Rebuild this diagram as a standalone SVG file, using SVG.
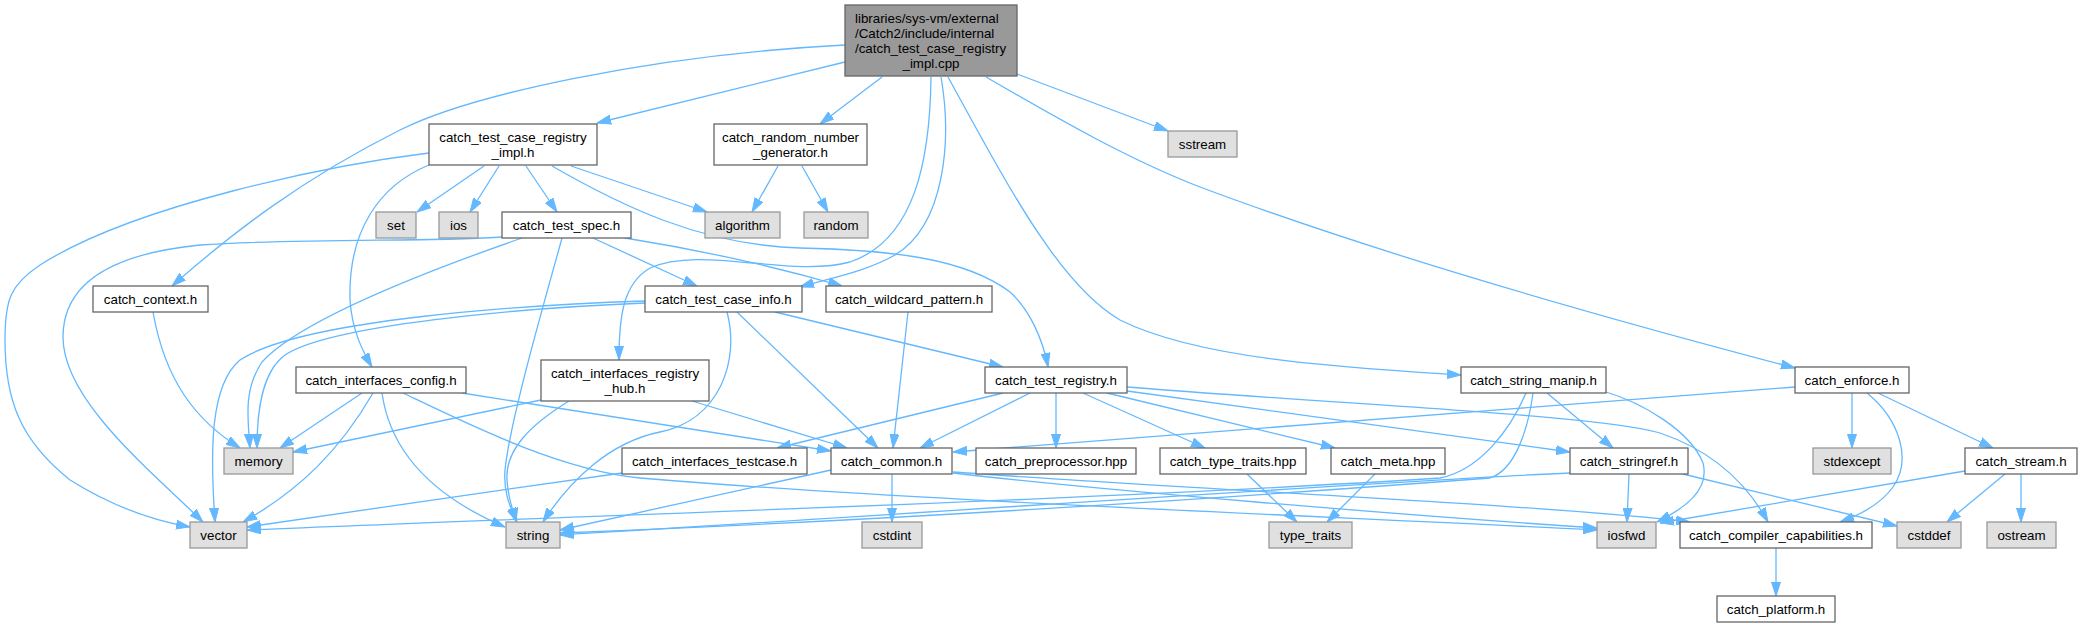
<svg xmlns="http://www.w3.org/2000/svg" width="2082" height="627" viewBox="0 0 2082 627">
<defs>
<marker id="ah" markerUnits="userSpaceOnUse" markerWidth="14" markerHeight="10" viewBox="0 0 14 10" refX="14" refY="5" orient="auto">
<path d="M0,0.5 L14,5 L0,9.5 z" fill="#63b8ff" stroke="#63b8ff" stroke-width="1"/>
</marker>
<style>
.n rect{fill:#ffffff;stroke:#666666;stroke-width:1.3}
.x rect{fill:#e0e0e0;stroke:#999999;stroke-width:1.3}
.r rect{fill:#999999;stroke:#666666;stroke-width:1.3}
text{font-family:"Liberation Sans",Arial,Helvetica,sans-serif;font-size:13.33px;fill:#000000}
.c{text-anchor:middle}
#edges path{fill:none;stroke:#63b8ff;stroke-width:1.3;marker-end:url(#ah)}
</style>
</defs>
<rect width="2082" height="627" fill="#ffffff"/>
<g id="edges">
<path d="M845,45 C650,55 470,95 400,130 C300,180 230,235 172,286"/>
<path d="M845,62 L597,123"/>
<path d="M882,77 L820,124"/>
<path d="M1017,74 L1168,131"/>
<path d="M986,77 C1060,120 1130,160 1200,187 C1400,262 1650,330 1795,368"/>
<path d="M948,77 C1010,190 1060,285 1120,320 C1200,360 1350,368 1461,375"/>
<path d="M931,77 C930,160 915,240 850,262 C790,278 700,245 650,268 C622,284 619,320 619,360"/>
<path d="M941,77 C952,140 945,225 895,255 C865,272 830,278 800,287"/>
<path d="M484,166 L417,212"/>
<path d="M499,166 L470,212"/>
<path d="M526,166 L557,212"/>
<path d="M571,166 L707,212"/>
<path d="M552,166 C620,205 700,245 800,248 C890,250 965,258 1010,292 C1030,310 1043,340 1048,367"/>
<path d="M429,153 C330,165 134,205 40,265 C10,285 5,300 5,340 C5,400 20,440 70,480 C110,505 150,520 190,527"/>
<path d="M429,165 C380,185 348,230 350,300 C352,330 362,350 372,367"/>
<path d="M778,166 L752,212"/>
<path d="M802,166 L828,212"/>
<path d="M502,237 C440,242 300,238 200,245 C100,255 63,290 63,337 C63,400 150,470 203,522"/>
<path d="M522,238 C430,270 300,320 262,362 C243,390 248,420 250,448"/>
<path d="M562,238 C545,300 510,420 505,470 C503,495 512,510 517,522"/>
<path d="M593,238 L697,286"/>
<path d="M625,238 C700,250 780,268 842,286"/>
<path d="M153,312 C165,380 195,420 240,448"/>
<path d="M645,301 C520,305 300,320 240,360 C210,385 210,450 215,522"/>
<path d="M645,303 C520,308 330,325 285,355 C262,372 257,410 257,448"/>
<path d="M727,312 C740,360 720,420 660,432 C610,442 570,480 543,522"/>
<path d="M737,312 L878,448"/>
<path d="M775,312 L1003,367"/>
<path d="M908,312 L893,448"/>
<path d="M362,393 L280,448"/>
<path d="M373,393 C340,450 300,490 243,522"/>
<path d="M382,393 C390,450 430,495 505,527"/>
<path d="M462,393 L831,451"/>
<path d="M403,393 C470,425 560,470 640,478 C900,500 1300,515 1597,530"/>
<path d="M541,400 L293,452"/>
<path d="M569,401 C530,425 505,450 507,480 C508,500 514,512 516,522"/>
<path d="M692,401 L847,448"/>
<path d="M1003,393 L777,448"/>
<path d="M1030,393 L920,448"/>
<path d="M1056,393 L1056,448"/>
<path d="M1083,393 L1205,448"/>
<path d="M1107,393 L1335,448"/>
<path d="M1127,391 L1570,452"/>
<path d="M1127,387 C1350,405 1600,415 1660,433 C1710,450 1745,480 1768,522"/>
<path d="M1547,393 L1613,448"/>
<path d="M1606,392 C1640,402 1690,430 1703,463 C1710,490 1685,508 1657,522"/>
<path d="M1526,393 C1510,430 1480,470 1440,478 C1100,500 600,515 247,530"/>
<path d="M1533,393 C1528,430 1515,470 1490,478 C1200,500 900,520 560,533"/>
<path d="M1570,473 C1400,480 900,515 560,535"/>
<path d="M831,470 L560,530"/>
<path d="M892,474 L892,522"/>
<path d="M953,473 C1100,490 1400,515 1597,528"/>
<path d="M953,472 C1200,490 1550,505 1690,522"/>
<path d="M1795,387 C1500,410 1100,440 953,452"/>
<path d="M1852,393 L1852,448"/>
<path d="M1878,393 L1993,448"/>
<path d="M1867,393 C1900,420 1912,460 1893,487 C1880,505 1860,515 1840,522"/>
<path d="M1965,471 L1660,523"/>
<path d="M2005,474 L1947,522"/>
<path d="M2021,474 L2021,522"/>
<path d="M1629,474 L1627,522"/>
<path d="M1683,474 L1897,526"/>
<path d="M1776,548 L1776,596"/>
<path d="M1247,474 L1297,522"/>
<path d="M1375,474 L1327,522"/>
<path d="M622,473 C500,490 350,512 247,527"/>
</g>
<g id="root" class="r"><rect x="845" y="5" width="172" height="71"/>
<text x="855" y="23">libraries/sys-vm/external</text>
<text x="855" y="38">/Catch2/include/internal</text>
<text x="855" y="53">/catch_test_case_registry</text>
<text x="931" y="68" class="c">_impl.cpp</text></g>
<g id="impl" class="n"><rect x="429" y="124" width="168" height="41"/>
<text x="513" y="141.7" class="c">catch_test_case_registry</text>
<text x="513" y="156.7" class="c">_impl.h</text></g>
<g id="rng" class="n"><rect x="714" y="124" width="153" height="41"/>
<text x="790.5" y="141.7" class="c">catch_random_number</text>
<text x="790.5" y="156.7" class="c">_generator.h</text></g>
<g id="sstream" class="x"><rect x="1168" y="131" width="69" height="26"/><text x="1202.5" y="148.7" class="c">sstream</text></g>
<g id="set" class="x"><rect x="376" y="212" width="40" height="26"/><text x="396" y="229.7" class="c">set</text></g>
<g id="ios" class="x"><rect x="439" y="212" width="39" height="26"/><text x="458.5" y="229.7" class="c">ios</text></g>
<g id="spec" class="n"><rect x="502" y="212" width="129" height="26"/><text x="566.5" y="229.7" class="c">catch_test_spec.h</text></g>
<g id="algorithm" class="x"><rect x="705" y="212" width="75" height="26"/><text x="742.5" y="229.7" class="c">algorithm</text></g>
<g id="random" class="x"><rect x="804" y="212" width="64" height="26"/><text x="836" y="229.7" class="c">random</text></g>
<g id="context" class="n"><rect x="93" y="286" width="115" height="26"/><text x="150.5" y="303.7" class="c">catch_context.h</text></g>
<g id="tci" class="n"><rect x="645" y="286" width="157" height="26"/><text x="723.5" y="303.7" class="c">catch_test_case_info.h</text></g>
<g id="wildcard" class="n"><rect x="826" y="286" width="166" height="26"/><text x="909" y="303.7" class="c">catch_wildcard_pattern.h</text></g>
<g id="iconfig" class="n"><rect x="296" y="367" width="170" height="26"/><text x="381" y="384.7" class="c">catch_interfaces_config.h</text></g>
<g id="hub" class="n"><rect x="541" y="360" width="168" height="41"/>
<text x="625" y="377.7" class="c">catch_interfaces_registry</text>
<text x="625" y="392.7" class="c">_hub.h</text></g>
<g id="registry" class="n"><rect x="985" y="367" width="142" height="26"/><text x="1056" y="384.7" class="c">catch_test_registry.h</text></g>
<g id="manip" class="n"><rect x="1461" y="367" width="145" height="26"/><text x="1533.5" y="384.7" class="c">catch_string_manip.h</text></g>
<g id="enforce" class="n"><rect x="1795" y="367" width="114" height="26"/><text x="1852" y="384.7" class="c">catch_enforce.h</text></g>
<g id="memory" class="x"><rect x="224" y="448" width="69" height="26"/><text x="258.5" y="465.7" class="c">memory</text></g>
<g id="testcase" class="n"><rect x="622" y="448" width="185" height="26"/><text x="714.5" y="465.7" class="c">catch_interfaces_testcase.h</text></g>
<g id="common" class="n"><rect x="831" y="448" width="121" height="26"/><text x="891.5" y="465.7" class="c">catch_common.h</text></g>
<g id="preproc" class="n"><rect x="976" y="448" width="160" height="26"/><text x="1056" y="465.7" class="c">catch_preprocessor.hpp</text></g>
<g id="typetraitshpp" class="n"><rect x="1160" y="448" width="146" height="26"/><text x="1233" y="465.7" class="c">catch_type_traits.hpp</text></g>
<g id="meta" class="n"><rect x="1331" y="448" width="114" height="26"/><text x="1388" y="465.7" class="c">catch_meta.hpp</text></g>
<g id="stringref" class="n"><rect x="1570" y="448" width="118" height="26"/><text x="1629" y="465.7" class="c">catch_stringref.h</text></g>
<g id="stdexcept" class="x"><rect x="1813" y="448" width="78" height="26"/><text x="1852" y="465.7" class="c">stdexcept</text></g>
<g id="stream" class="n"><rect x="1965" y="448" width="112" height="26"/><text x="2021" y="465.7" class="c">catch_stream.h</text></g>
<g id="vector" class="x"><rect x="190" y="522" width="57" height="26"/><text x="218.5" y="539.7" class="c">vector</text></g>
<g id="string" class="x"><rect x="506" y="522" width="54" height="26"/><text x="533" y="539.7" class="c">string</text></g>
<g id="cstdint" class="x"><rect x="862" y="522" width="60" height="26"/><text x="892" y="539.7" class="c">cstdint</text></g>
<g id="type_traits" class="x"><rect x="1269" y="522" width="83" height="26"/><text x="1310.5" y="539.7" class="c">type_traits</text></g>
<g id="iosfwd" class="x"><rect x="1597" y="522" width="59" height="26"/><text x="1626.5" y="539.7" class="c">iosfwd</text></g>
<g id="caps" class="n"><rect x="1680" y="522" width="192" height="26"/><text x="1776" y="539.7" class="c">catch_compiler_capabilities.h</text></g>
<g id="cstddef" class="x"><rect x="1897" y="522" width="64" height="26"/><text x="1929" y="539.7" class="c">cstddef</text></g>
<g id="ostream" class="x"><rect x="1987" y="522" width="69" height="26"/><text x="2021.5" y="539.7" class="c">ostream</text></g>
<g id="platform" class="n"><rect x="1717" y="596" width="118" height="26"/><text x="1776" y="613.7" class="c">catch_platform.h</text></g>
</svg>
